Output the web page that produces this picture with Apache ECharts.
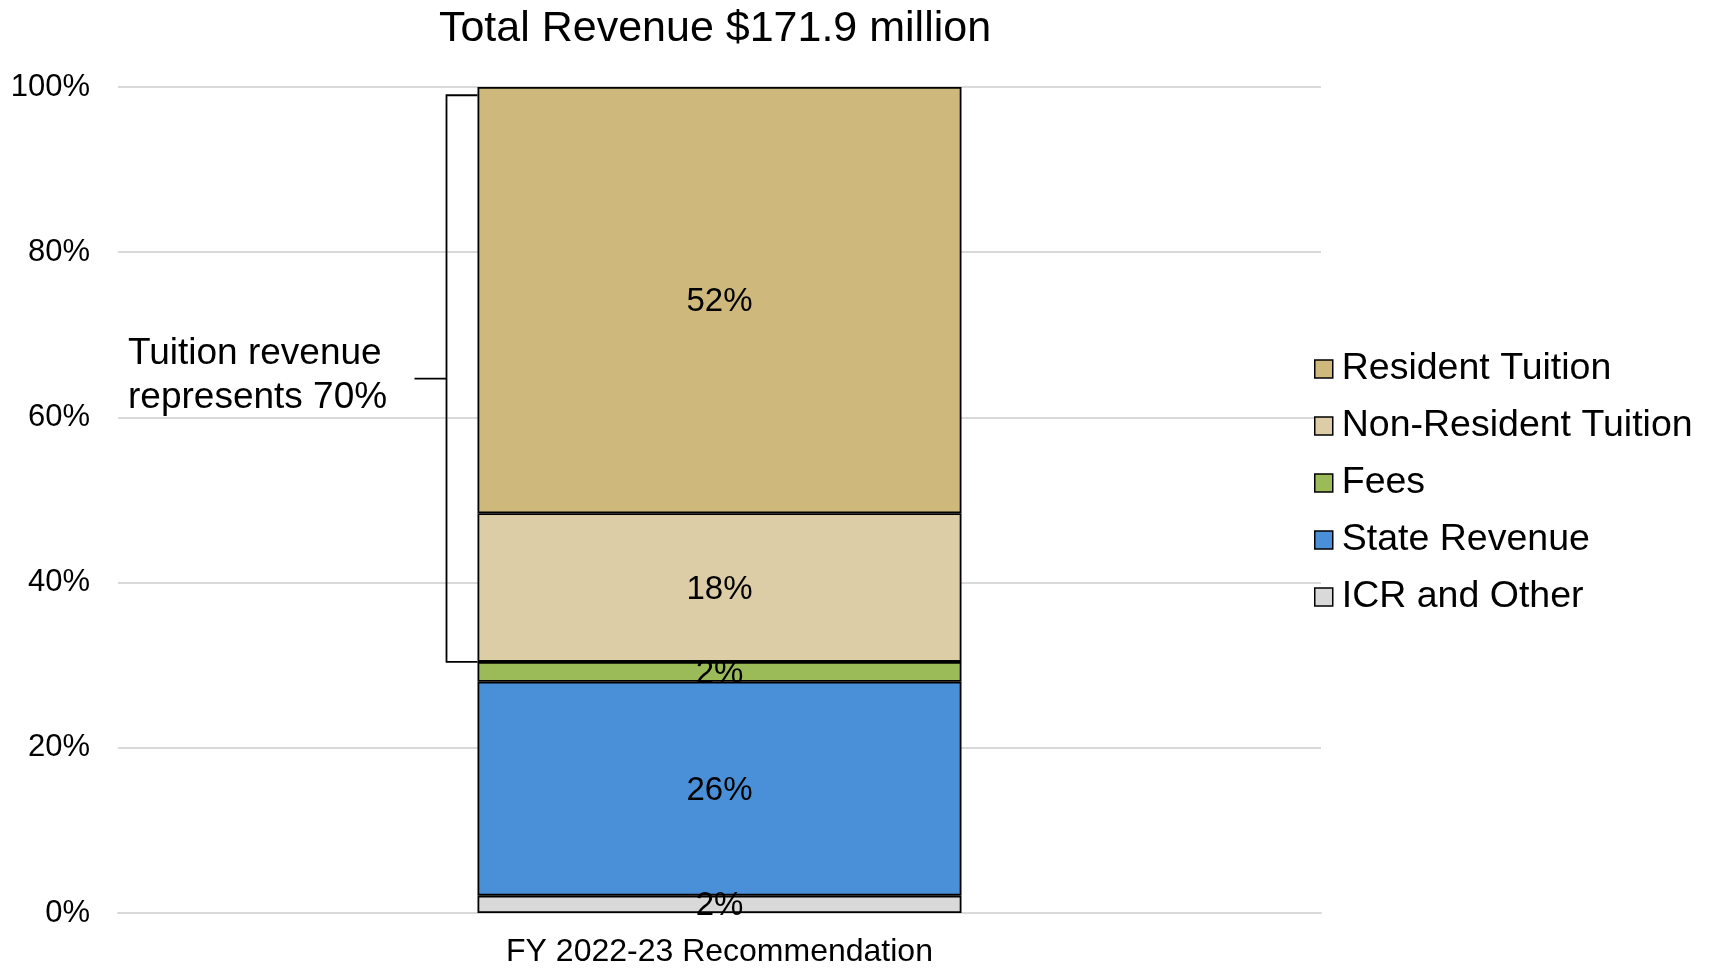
<!DOCTYPE html>
<html>
<head>
<meta charset="utf-8">
<script src="https://cdn.jsdelivr.net/npm/echarts@6/dist/echarts.min.js"></script>
<style>
html,body{margin:0;padding:0;background:#fff;}
#chart{width:1711px;height:968px;}
</style>
</head>
<body>
<div id="chart"></div>
<script>
// ---- data ----
const categories = ['FY 2022-23 Recommendation'];
const seriesNames = ['ICR and Other', 'State Revenue', 'Fees', 'Non-Resident Tuition', 'Resident Tuition'];
const icrOther = [2.1];
const stateRevenue = [25.9];
const fees = [2.4];
const nonResidentTuition = [18.0];
const residentTuition = [51.6];
const yTicks = [0, 20, 40, 60, 80, 100];
const legendOrder = ['Resident Tuition', 'Non-Resident Tuition', 'Fees', 'State Revenue', 'ICR and Other'];
const titleText = 'Total Revenue $171.9 million';
const bracketTop = 99; // percent where the bracket starts

const colors = {
  'ICR and Other': '#D9D9D9',
  'State Revenue': '#4A90D9',
  'Fees': '#9BBB59',
  'Non-Resident Tuition': '#DDCDA6',
  'Resident Tuition': '#CEB87C'
};
const seriesData = [icrOther, stateRevenue, fees, nonResidentTuition, residentTuition];

const FONT = '"Liberation Sans", Arial, sans-serif';
const chart = echarts.init(document.getElementById('chart'));
const BAR_W = 484;

const option = {
  backgroundColor: '#fff',
  animation: false,
  title: {
    text: titleText,
    left: 715,
    textAlign: 'center',
    top: 8,
    padding: 0,
    textStyle: {fontFamily: FONT, fontSize: 43, fontWeight: 'normal', color: '#000'}
  },
  legend: {
    orient: 'vertical',
    left: 1309,
    top: 344,
    data: legendOrder,
    icon: 'rect',
    itemWidth: 18,
    itemHeight: 18,
    itemGap: 17,
    itemStyle: {borderColor: '#000', borderWidth: 1.5},
    textStyle: {fontFamily: FONT, fontSize: 37.5, color: '#000', lineHeight: 40, padding: [0, 0, 0, 4]}
  },
  grid: {left: 118, right: 390, top: 87, bottom: 39},
  xAxis: {
    type: 'category',
    data: categories,
    axisLine: {show: true, lineStyle: {color: '#D9D9D9', width: 2}},
    axisTick: {show: false},
    axisLabel: {fontFamily: FONT, fontSize: 32, color: '#000', margin: 23}
  },
  yAxis: {
    type: 'value',
    min: yTicks[0],
    max: yTicks[yTicks.length - 1],
    interval: 20,
    axisLine: {show: false},
    axisTick: {show: false},
    splitLine: {lineStyle: {color: '#D9D9D9', width: 2}},
    axisLabel: {fontFamily: FONT, fontSize: 31, color: '#000', margin: 28, formatter: v => v + '%'}
  },
  series: seriesNames.map((name, i) => ({
    name: name,
    type: 'bar',
    stack: 'total',
    barWidth: BAR_W,
    data: seriesData[i],
    itemStyle: {color: colors[name], borderColor: '#000', borderWidth: 1.8},
    label: {
      show: true,
      position: 'inside',
      offset: [0, 2],
      fontFamily: FONT,
      fontSize: 33,
      color: '#000',
      formatter: p => Math.round(p.value) + '%'
    }
  }))
};
chart.setOption(option);

// ---- bracket annotation derived from data ----
const tuitionBottom = icrOther[0] + stateRevenue[0] + fees[0];
const tuitionShare = Math.round(residentTuition[0] + nonResidentTuition[0]);
const pTop = chart.convertToPixel({gridIndex: 0}, [0, bracketTop]);
const pBot = chart.convertToPixel({gridIndex: 0}, [0, tuitionBottom]);
const barLeft = pTop[0] - BAR_W / 2;
const bx = barLeft - 31;
const midY = (pTop[1] + pBot[1]) / 2;
chart.setOption({
  graphic: [
    {type: 'polyline', shape: {points: [[barLeft, pTop[1]], [bx, pTop[1]], [bx, pBot[1]], [barLeft, pBot[1]]]},
     style: {stroke: '#000', lineWidth: 1.8, fill: null}, z: 10},
    {type: 'line', shape: {x1: bx - 32, y1: midY, x2: bx, y2: midY},
     style: {stroke: '#000', lineWidth: 1.8}, z: 10},
    {type: 'text', left: 128, top: midY - 47,
     style: {text: 'Tuition revenue\nrepresents ' + tuitionShare + '%', font: '37px ' + FONT, fill: '#000', lineHeight: 44}, z: 10}
  ]
});
</script>
</body>
</html>
